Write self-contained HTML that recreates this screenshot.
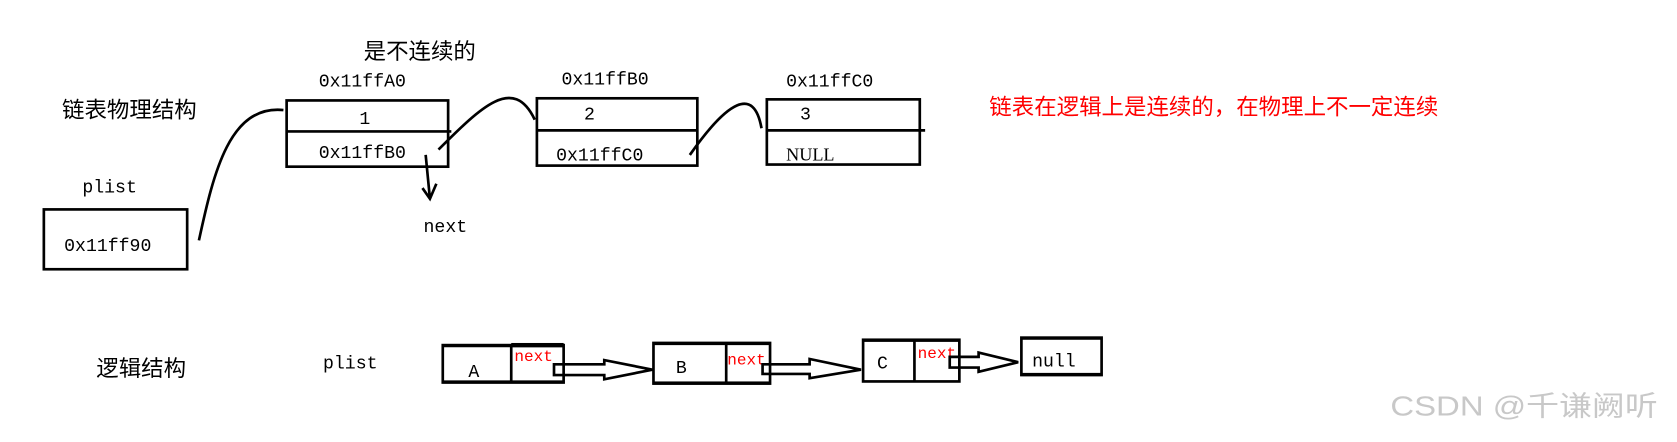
<!DOCTYPE html>
<html><head><meta charset="utf-8"><style>html,body{margin:0;padding:0;background:#fff;overflow:hidden}</style></head><body>
<svg width="1677" height="437" viewBox="0 0 1568 409" preserveAspectRatio="none" xmlns="http://www.w3.org/2000/svg" font-family="'Liberation Mono','Noto Serif CJK SC',monospace" font-size="17">
<rect width="1568" height="409" fill="#fff"/>
<g fill="#000">
<text x="340" y="55" font-family="'Liberation Serif','Noto Sans CJK SC',sans-serif" font-size="21">是不连续的</text>
<text x="298" y="81">0x11ffA0</text>
<text x="525" y="79">0x11ffB0</text>
<text x="735" y="81">0x11ffC0</text>
<text x="58" y="110" font-family="'Liberation Serif','Noto Sans CJK SC',sans-serif" font-size="21">链表物理结构</text>
<text x="336" y="116">1</text>
<text x="298" y="148">0x11ffB0</text>
<text x="546" y="112">2</text>
<text x="520" y="150">0x11ffC0</text>
<text x="748" y="112">3</text>
<text x="735" y="150" font-family="'Liberation Serif',serif">NULL</text>
<text x="77" y="180">plist</text>
<text x="60" y="235">0x11ff90</text>
<text x="396" y="217">next</text>
<text x="90" y="352" font-family="'Liberation Serif','Noto Sans CJK SC',sans-serif" font-size="21">逻辑结构</text>
<text x="302" y="345">plist</text>
<text x="438" y="353">A</text>
<text x="632" y="349">B</text>
<text x="820" y="345">C</text>
<text x="965" y="343">null</text>
</g>
<text x="925" y="107" fill="#ff0000" font-family="'Liberation Serif','Noto Sans CJK SC',sans-serif" font-size="21">链表在逻辑上是连续的，在物理上不一定连续</text>
<g fill="#ff0000" font-size="15">
<text x="481" y="338">next</text>
<text x="680" y="341">next</text>
<text x="858" y="335">next</text>
</g>
<text x="1300" y="389" fill="#c8c8c8" font-family="'Liberation Sans','Noto Sans CJK SC',sans-serif" font-size="26" textLength="250" lengthAdjust="spacingAndGlyphs">CSDN @千谦阙听</text>
<g fill="none" stroke="#000" stroke-width="2.5">
<rect x="268" y="94" width="151" height="62"/><line x1="268" y1="123" x2="422" y2="123"/>
<rect x="502" y="92" width="150" height="63"/><line x1="502" y1="122" x2="652" y2="122"/>
<rect x="717" y="93" width="143" height="61"/><line x1="717" y1="122" x2="865" y2="122"/>
<rect x="41" y="196" width="134" height="56"/>
<path d="M186 225 C200 160 215 98 265 103"/>
<path d="M410 140 C450 100 480 70 500 112"/>
<path d="M645 145 C680 95 705 80 712 120"/>
<path d="M398 145 L402 186 M395 176 L402 186 L408 172"/>
<rect x="414" y="323" width="113" height="35"/><line x1="478" y1="323" x2="478" y2="358"/>
<rect x="611" y="321" width="109" height="38"/><line x1="679" y1="321" x2="679" y2="359"/>
<rect x="807" y="318" width="90" height="39"/><line x1="855" y1="318" x2="855" y2="357"/>
<rect x="955" y="316" width="75" height="35"/>
<path d="M518 341 L565 341 L565 337 L610 346 L565 355 L565 351 L518 351 Z"/>
<path d="M713 341 L757 341 L757 336 L805 346 L757 354 L757 350 L713 350 Z"/>
<path d="M888 334 L915 334 L915 330 L952 339 L915 348 L915 344 L888 344 Z"/>
</g>
<g fill="#000">
<rect x="414" y="322" width="113" height="3"/><rect x="478" y="321" width="49" height="4"/><rect x="414" y="356" width="113" height="3"/>
<rect x="611" y="320" width="109" height="3"/><rect x="611" y="357" width="109" height="3"/>
<rect x="807" y="317" width="90" height="3"/><rect x="955" y="315" width="75" height="3"/><rect x="955" y="349" width="75" height="3"/>
</g>
</svg>
</body></html>
